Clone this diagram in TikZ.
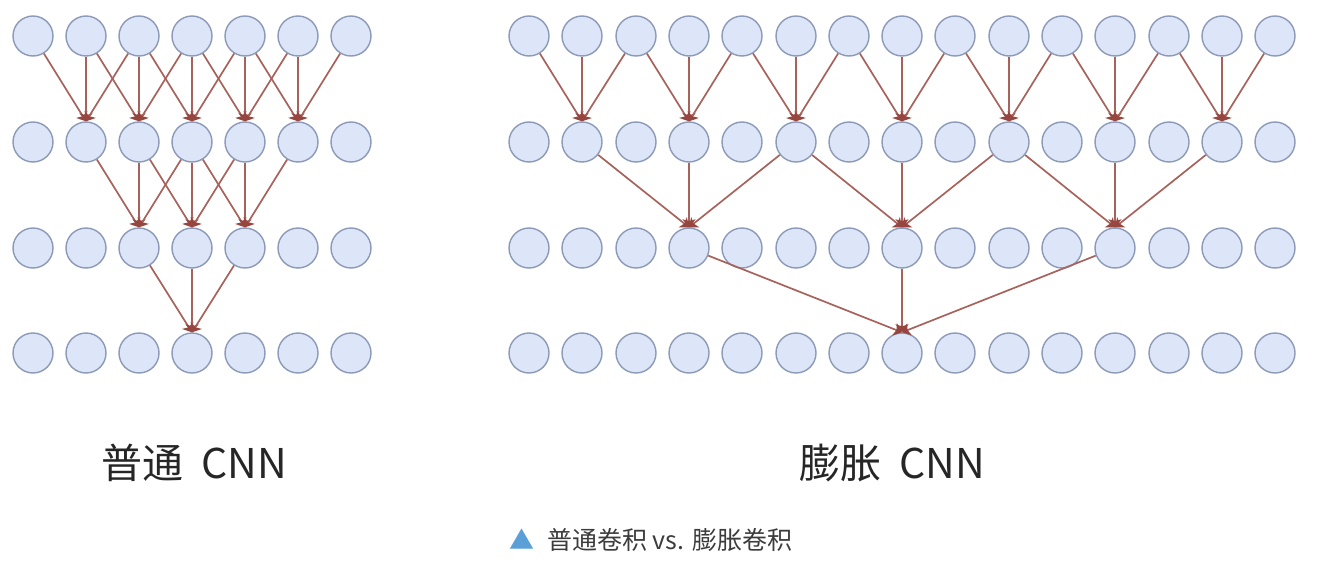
\documentclass[tikz,border=0pt]{standalone}
\usepackage{fontspec}
\usetikzlibrary{arrows.meta, positioning}
\newfontfamily\cjk{Noto Sans CJK SC}
\definecolor{cellfill}{RGB}{220,230,248}
\definecolor{celldraw}{RGB}{140,154,184}
\definecolor{linkred}{RGB}{168,98,92}
\definecolor{tipred}{RGB}{150,70,62}
\definecolor{capblue}{RGB}{90,160,215}
\definecolor{capgray}{RGB}{60,60,60}

\begin{document}
\begin{tikzpicture}[
    x=1pt, y=-1pt,
    cell/.style={circle, draw=celldraw, line width=1.4pt, fill=cellfill, minimum size=40pt, inner sep=0pt},
    link/.style={draw=linkred, line width=1.7pt, -{Stealth[length=8pt, width=13pt, inset=2pt, fill=tipred, color=tipred]}},
    netlabel/.style={font=\cjk\fontsize{41}{46}\selectfont, text=black!85},
    caption/.style={font=\cjk\fontsize{25}{28}\selectfont, text=capgray}
]
   \useasboundingbox (0,0) rectangle (1318,562);

   % left net: 7 cells per row, 4 rows
   \foreach \r/\y in {1/36, 2/142, 3/248, 4/353}
      \foreach \c in {0,...,6}
         \node[cell] (L\r-\c) at ({33+53*\c},\y) {};

   % right net: 15 cells per row, 4 rows
   \foreach \r/\y in {1/36, 2/142, 3/248, 4/353}
      \foreach \c in {0,...,14}
         \node[cell] (R\r-\c) at ({round(529+53.3*\c)},\y) {};

   % plain convolution, kernel 3, step 1
   \foreach \c in {1,...,5}
      \foreach \d in {-1,0,1}
         \draw[link] (L1-\the\numexpr\c+\d\relax) -- (L2-\c.north);
   \foreach \c in {2,3,4}
      \foreach \d in {-1,0,1}
         \draw[link] (L2-\the\numexpr\c+\d\relax) -- (L3-\c.north);
   \foreach \d in {-1,0,1}
      \draw[link] (L3-\the\numexpr3+\d\relax) -- (L4-3.north);

   % dilated convolution, gaps 1, 2, 4
   \foreach \c in {1,3,5,7,9,11,13}
      \foreach \d in {-1,0,1}
         \draw[link] (R1-\the\numexpr\c+\d\relax) -- (R2-\c.north);
   \foreach \c in {3,7,11}
      \foreach \d in {-2,0,2}
         \draw[link] (R2-\the\numexpr\c+\d\relax) -- (R3-\c.north);
   \foreach \d in {-4,0,4}
      \draw[link] (R3-\the\numexpr7+\d\relax) -- (R4-7.north);

   % labels
   \node[netlabel] (plainlabel) at (194,463) {普通~~CNN};
   \node[netlabel] (dilatedlabel) at (892,463) {膨胀~~CNN};
   \node[caption] (figcaption) at (651,540) {{\color{capblue}▲}\enspace 普通卷积 vs. 膨胀卷积};
\end{tikzpicture}
\end{document}
